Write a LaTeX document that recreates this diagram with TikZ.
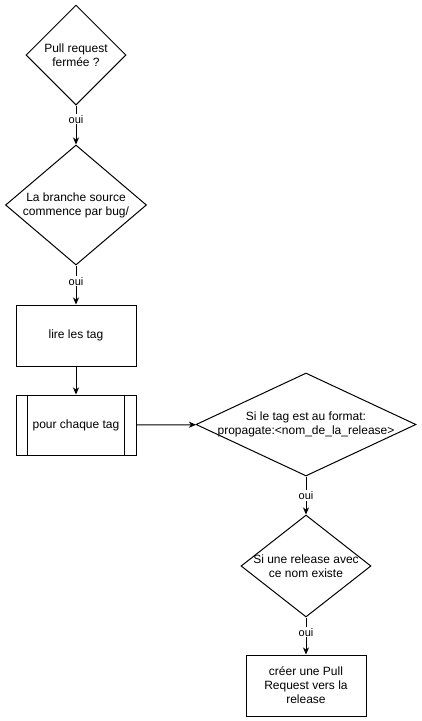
\documentclass[tikz,border=0pt]{standalone}
\usepackage{fontspec}
\setmainfont{Liberation Sans}
\usetikzlibrary{shapes.geometric,arrows.meta}

\begin{document}
\begin{tikzpicture}[x=1pt,y=-1pt,
  font=\fontsize{12}{14}\selectfont,
  question/.style={diamond,draw,inner sep=0pt,line width=1pt},
  stepbox/.style={rectangle,draw,minimum width=120,minimum height=61,align=center,line width=1pt},
  oui/.style={fill=white,font=\fontsize{11}{13}\selectfont,inner sep=1pt},
  fleche/.style={-{Stealth[length=7pt,width=6pt,inset=2pt]},line width=1pt}]
\useasboundingbox (0,0) rectangle (421,721);
\node[question,minimum width=100,minimum height=100,
  label={[align=center]center:Pull request\\fermée ?}] (fermee) at (76,55) {};
\node[question,minimum width=141,minimum height=120,
  label={[align=center]center:La branche source\\commence par bug/}] (bug) at (76,205) {};
\node[stepbox] (lire) at (76,335.5) {lire les tag};
\node[stepbox,minimum height=60] (chaque) at (76,425) {pour chaque tag};
\draw[line width=1pt] ([xshift=12]chaque.north west) -- ([xshift=12]chaque.south west)
  ([xshift=-12]chaque.north east) -- ([xshift=-12]chaque.south east);
\node[question,minimum width=220,minimum height=103,
  label={[align=center]center:Si le tag est au format:\\propagate:<nom\_de\_la\_release>}] (format) at (306,424.5) {};
\node[question,minimum width=130,minimum height=102,
  label={[align=center]center:Si une release avec\\ce nom existe}] (existe) at (306,566) {};
\node[stepbox] (creer) at (306,685.5) {créer une Pull\\Request vers la\\release};
% liaisons
\draw[fleche] (fermee) -- node[oui,pos=0.35] {oui} (bug);
\draw[fleche] (bug) -- node[oui,pos=0.4] {oui} (lire);
\draw[fleche] (lire) -- (chaque);
\draw[fleche] (chaque) -- (format);
\draw[fleche] (format) -- node[oui,pos=0.5] {oui} (existe);
\draw[fleche] (existe) -- node[oui,pos=0.4] {oui} (creer);
\end{tikzpicture}
\end{document}
